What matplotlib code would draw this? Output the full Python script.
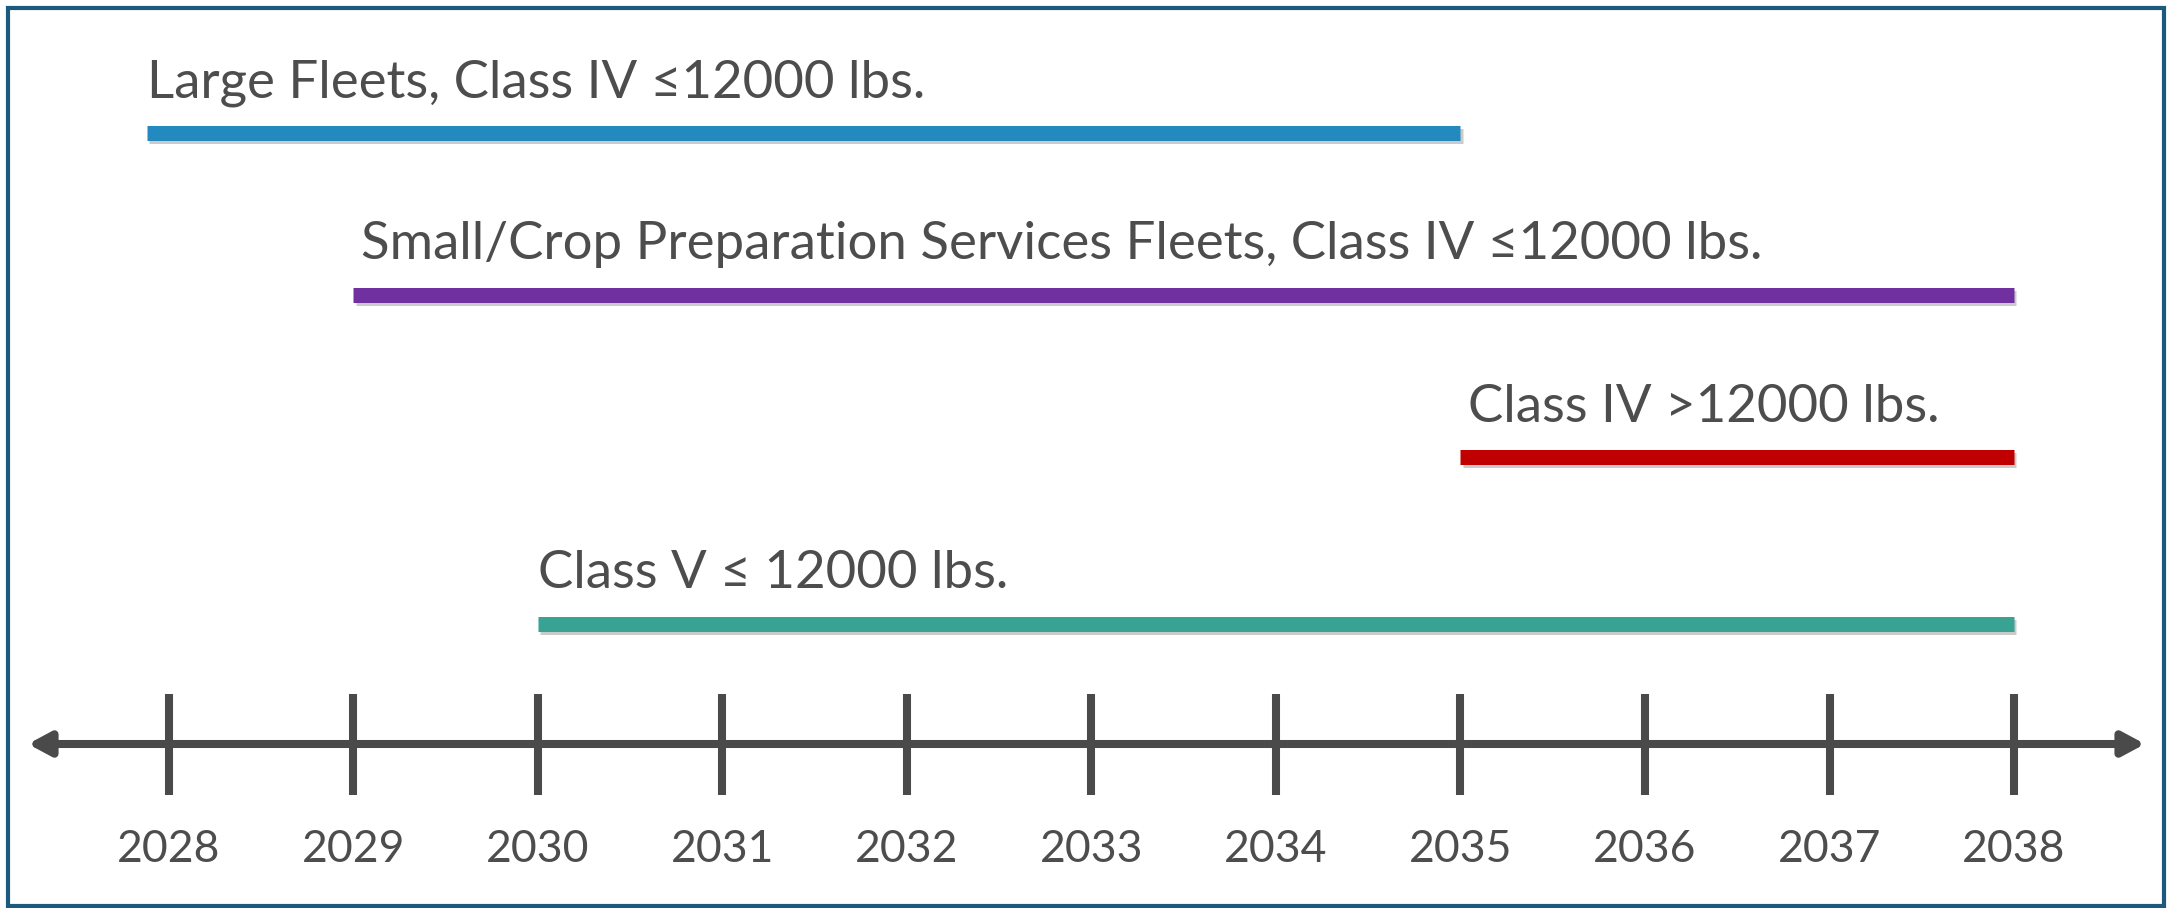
import matplotlib
matplotlib.use("Agg")
import matplotlib.pyplot as plt
import matplotlib.patheffects as pe
from matplotlib.patches import Rectangle

# ---- data ----
labels = [
    "Large Fleets, Class IV \u226412000 lbs.",
    "Small/Crop Preparation Services Fleets, Class IV \u226412000 lbs.",
    "Class IV >12000 lbs.",
    "Class V \u2264 12000 lbs.",
]
start_years = [2027.88, 2029, 2035, 2030]
end_years = [2035, 2038, 2038, 2038]
colors = ["#2389BF", "#7030A0", "#C00000", "#38A393"]
tick_years = list(range(2028, 2039))
tick_labels = [str(y) for y in tick_years]

# ---- layout (pixel-like y units, years on x) ----
W, H = 2170, 908
px_per_year = 184.5
x0_px = 169  # pixel of 2028
row_y = [133, 295, 457, 624]
label_dy = -50
label_dx = [0, 0.04, 0.04, 0]
axis_y = 744

plt.rcParams['font.family'] = ['Lato', 'DejaVu Sans']
fig = plt.figure(figsize=(W / 100, H / 100), dpi=100)
ax = fig.add_axes([0, 0, 1, 1])
ax.set_xlim(2028 - x0_px / px_per_year, 2028 + (W - x0_px) / px_per_year)
ax.set_ylim(H, 0)
ax.axis("off")

text_color = "#4d4d4d"
axis_color = "#4a4a4a"

for lab, s, e, c, y, dx in zip(labels, start_years, end_years, colors, row_y, label_dx):
    ax.plot([s, e], [y, y], color=c, lw=10.8, solid_capstyle="butt",
            path_effects=[pe.SimpleLineShadow(offset=(1.5, -2.5), alpha=0.3,
                                              shadow_color="#555555"),
                          pe.Normal()], zorder=3)
    ax.text(s + dx, y + label_dy, lab, ha="left", va="center", fontsize=38,
            color=text_color, zorder=4)

# axis with arrows
left_tip = 2028 - (x0_px - 28) / px_per_year
right_tip = 2028 + (2145 - x0_px) / px_per_year
ax.annotate("", xy=(right_tip, axis_y), xytext=(left_tip, axis_y),
            arrowprops=dict(arrowstyle="<|-|>,head_length=13,head_width=7",
                            mutation_scale=1, lw=5.8, color=axis_color,
                            shrinkA=0, shrinkB=0), zorder=2)
ax.vlines(tick_years, 694, 795, color=axis_color, lw=5.8, zorder=2)
for yr, tl in zip(tick_years, tick_labels):
    ax.text(yr, 849, tl, ha="center", va="center", fontsize=32, color=text_color)

# border
fig.patches.append(Rectangle((8 / W, 2 / H), 2156 / W, (H - 10) / H,
                             transform=fig.transFigure, fill=False,
                             ec="#1b5a7d", lw=3))

fig.savefig("out.png", dpi=100, facecolor="white")
